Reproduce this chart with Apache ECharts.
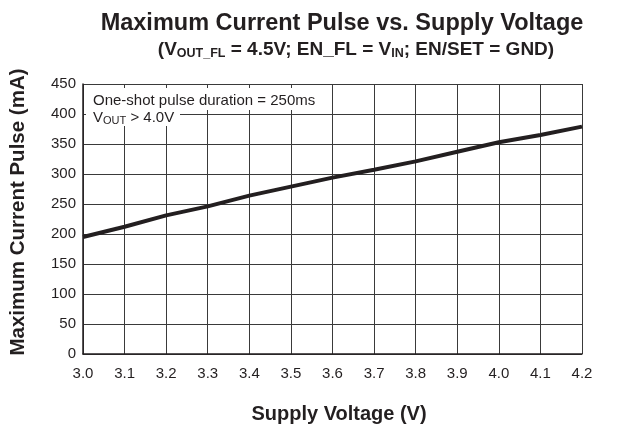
<!DOCTYPE html>
<html>
  <head>
    <meta charset="utf-8" />
    <title>Maximum Current Pulse vs. Supply Voltage</title>
    <script src="https://cdn.jsdelivr.net/npm/echarts@6/dist/echarts.min.js"></script>
  </head>
  <body style="margin:0;background:#fff">
    <div id="chart" style="width:621px;height:435px"></div>
    <script type="text/javascript">
      // supply voltage (V) and current pulse (mA)
      var voltage = [3.0, 3.1, 3.2, 3.3, 3.4, 3.5, 3.6, 3.7, 3.8, 3.9, 4.0, 4.1, 4.2];
      var currentPulse = [195, 212, 231, 246, 264, 279, 294, 307, 321, 337, 353, 365, 379];

      var points = voltage.map(function (v, i) {
        return [v, currentPulse[i]];
      });

      var chart = echarts.init(document.getElementById("chart"));
      var font = "Liberation Sans, Arial, sans-serif";

      chart.setOption({
        animation: false,
        textStyle: { fontFamily: font },
        title: [
          {
            text: "Maximum Current Pulse vs. Supply Voltage",
            left: 337,
            top: 7,
            textAlign: "center",
            textStyle: { fontSize: 23.5, fontWeight: "bold", color: "#231f20", fontFamily: font }
          },
          {
            text: "(V{s|OUT_FL} = 4.5V; EN_FL = V{s|IN}; EN/SET = GND)",
            left: 351,
            top: 35,
            textAlign: "center",
            textStyle: {
              fontSize: 19,
              fontWeight: "bold",
              color: "#231f20",
              fontFamily: font,
              rich: {
                s: { fontSize: 12.5, fontWeight: "bold", verticalAlign: "bottom", padding: [7, 0, 0, 0], color: "#231f20" }
              }
            }
          }
        ],
        grid: { left: 83, right: 39, top: 84, bottom: 81, outerBoundsMode: "none" },
        xAxis: {
          type: "value",
          min: 3.0,
          max: 4.2,
          interval: 0.1,
          name: "Supply Voltage (V)",
          nameLocation: "middle",
          nameGap: 50,
          nameTextStyle: { fontSize: 20, fontWeight: "bold", color: "#231f20", padding: [0, 0, 0, 13] },
          axisLine: { lineStyle: { color: "#231f20", width: 1.5 } },
          axisTick: { show: false },
          axisLabel: {
            fontSize: 15,
            color: "#231f20",
            margin: 12,
            formatter: function (v) { return v.toFixed(1); }
          },
          splitLine: { show: true, lineStyle: { color: "#3a3a3a", width: 1 } }
        },
        yAxis: {
          type: "value",
          min: 0,
          max: 450,
          interval: 50,
          name: "Maximum Current Pulse (mA)",
          nameLocation: "middle",
          nameGap: 54,
          nameTextStyle: { fontSize: 20.5, fontWeight: "bold", color: "#231f20", padding: [0, 0, 0, 14] },
          axisLine: { show: true, lineStyle: { color: "#231f20", width: 1.5 } },
          axisTick: { show: false },
          axisLabel: { fontSize: 15, color: "#231f20", margin: 7 },
          splitLine: { show: true, lineStyle: { color: "#3a3a3a", width: 1 } }
        },
        graphic: [
          {
            type: "rect",
            left: 86,
            top: 88,
            shape: { width: 246, height: 22 },
            style: { fill: "#fff" },
            z: 10
          },
          {
            type: "rect",
            left: 86,
            top: 110,
            shape: { width: 94, height: 16 },
            style: { fill: "#fff" },
            z: 10
          },
          {
            type: "text",
            left: 93,
            top: 93,
            z: 11,
            style: {
              text: "One-shot pulse duration = 250ms",
              font: "15px " + font,
              fill: "#231f20"
            }
          },
          {
            type: "text",
            left: 93,
            top: 110,
            z: 11,
            style: {
              text: "V{s|OUT} > 4.0V",
              font: "15px " + font,
              fill: "#231f20",
              rich: { s: { fontSize: 11, verticalAlign: "bottom", padding: [6, 0, 0, 0], fill: "#231f20" } }
            }
          }
        ],
        series: [
          {
            type: "line",
            data: points,
            showSymbol: false,
            lineStyle: { color: "#231f20", width: 4 },
            z: 5
          }
        ]
      });
    </script>
  </body>
</html>
